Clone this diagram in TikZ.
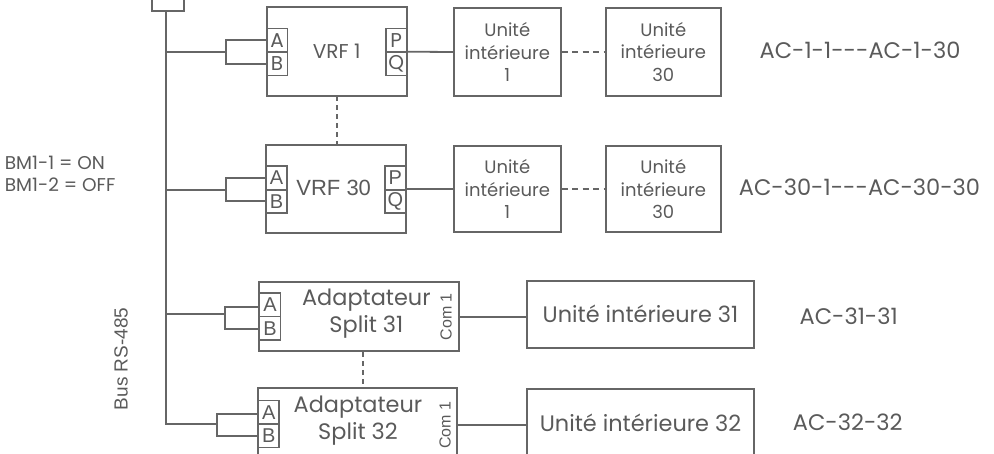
\documentclass[tikz,border=0pt]{standalone}
\usepackage{fontspec}
\setmainfont{Poppins}
\newfontfamily\altfont{Liberation Sans}
\definecolor{lc}{HTML}{666666}
\definecolor{tc}{HTML}{5A5A5A}
\begin{document}
\begin{tikzpicture}[x=1pt,y=-1pt,
  line width=1.8pt, draw=lc,
  box/.style={draw=lc, line width=1.8pt, rectangle, inner sep=0pt, text=tc, align=center},
  port/.style={box, minimum width=21pt, minimum height=23.5pt, font=\fontsize{20}{20}\selectfont},
  aport/.style={port, font=\altfont\fontsize{20}{20}\selectfont},
  lbl/.style={text=tc, inner sep=0pt},
  dsh/.style={dash pattern=on 6pt off 4.5pt}
]
\useasboundingbox (0,0) rectangle (994,453);
% top box
\node[box, minimum width=32pt, minimum height=40pt] (top) at (168,-9) {};
% VRF 1
\node[box, minimum width=140pt, minimum height=88.7pt, font=\fontsize{20}{20}\selectfont] (vrf1) at (336.7,51.7) {VRF 1};
\node[port] (a1) at (277,40.3) {A};
\node[port] (b1) at (277,63.8) {B};
\node[port] (p1) at (396.2,40.3) {P};
\node[port] (q1) at (396.2,63.8) {Q};
% VRF 30
\node[box, minimum width=139.7pt, minimum height=88pt] (vrf30) at (335.9,189.3) {};
\node[lbl, font=\altfont\fontsize{22}{22}\selectfont] (vrf30t) at (333.7,188) {VRF 30};
\node[aport] (a30) at (276.5,178) {A};
\node[aport] (b30) at (276.5,201.3) {B};
\node[aport] (p30) at (395.3,178) {P};
\node[aport] (q30) at (395.3,201.3) {Q};
% indoor units rows
\tikzset{ubox/.style={box, minimum width=106.7pt, minimum height=87.4pt, font=\fontsize{18}{22.5}\selectfont}}
\node[ubox] (u1a) at (507.3,52) {Unité\\intérieure\\1};
\node[ubox, minimum width=115.3pt] (u1b) at (663.3,52) {Unité\\intérieure\\30};
\node[ubox, minimum height=86.3pt] (u2a) at (507.3,189.2) {Unité\\intérieure\\1};
\node[ubox, minimum width=115.3pt, minimum height=86.3pt] (u2b) at (663.3,189.2) {Unité\\intérieure\\30};
% labels right
\node[lbl, font=\fontsize{22.5}{22.5}\selectfont] (ac1) at (860,50) {AC-1-1{-}{-}{-}AC-1-30};
\node[lbl, font=\fontsize{22.5}{22.5}\selectfont] (ac30) at (859.5,187) {AC-30-1{-}{-}{-}AC-30-30};
\node[lbl, font=\fontsize{22.5}{22.5}\selectfont] (ac31) at (848.7,316) {AC-31-31};
\node[lbl, font=\fontsize{22.5}{22.5}\selectfont] (ac32) at (847.8,422) {AC-32-32};
% BM
\node[lbl, anchor=west, font=\fontsize{18.5}{18.5}\selectfont] (bm1) at (4,162.7) {BM1-1 = ON};
\node[lbl, anchor=west, font=\fontsize{18.5}{18.5}\selectfont] (bm2) at (4,185) {BM1-2 = OFF};
% Bus label
\node[lbl, rotate=90, font=\altfont\fontsize{19}{19}\selectfont] (buslbl) at (121,359) {Bus RS-485};
% adapters
\node[box, minimum width=199.7pt, minimum height=69.3pt] (ad31) at (359.2,316.3) {};
\node[lbl, font=\fontsize{22.4}{26.7}\selectfont, align=center] (ad31t) at (366.4,313.3) {Adaptateur\\Split 31};
\node[aport] (a31) at (270,304.7) {A};
\node[aport] (b31) at (270,328.3) {B};
\node[lbl, rotate=90, font=\altfont\fontsize{16}{16}\selectfont] (c31) at (446,316.7) {Com 1};
\node[box, minimum width=198.7pt, minimum height=69.3pt] (ad32) at (357.7,423) {};
\node[lbl, font=\fontsize{22.4}{26.7}\selectfont, align=center] (ad32t) at (358,420.8) {Adaptateur\\Split 32};
\node[aport] (a32) at (268.8,412.3) {A};
\node[aport] (b32) at (268.8,435.7) {B};
\node[lbl, rotate=90, font=\altfont\fontsize{16}{16}\selectfont] (c32) at (445,425) {Com 1};
% units 31 32
\node[box, minimum width=227.6pt, minimum height=67pt, font=\fontsize{22.4}{22.4}\selectfont] (u31) at (640.5,314.2) {Unité intérieure 31};
\node[box, minimum width=227.6pt, minimum height=67pt, font=\fontsize{22.4}{22.4}\selectfont] (u32) at (640.5,422.5) {Unité intérieure 32};
% bus
\coordinate (busend) at (166,424);
\coordinate (bj1) at (166,51.7);
\coordinate (bj30) at (166,190);
\coordinate (bj31) at (166,314.3);
\coordinate (j1) at (226,51.7);
\coordinate (j30) at (226,190);
\coordinate (j31) at (225.3,314.3);
\coordinate (j32) at (217.3,424);
\draw[lc] (top.south -| busend) -- (busend) -- (j32);
\draw[lc] (bj1) -- (j1);
\draw[lc] (bj30) -- (j30);
\draw[lc] (bj31) -- (j31);
\draw[lc] (a1.west) -| (j1) |- (b1.west);
\draw[lc] (a30.west) -| (j30) |- (b30.west);
\draw[lc] ([yshift=-2pt]a31.west) -| (j31) |- ([yshift=-1pt]b31.west);
\draw[lc] ([yshift=-1.6pt]a32.west) -| (j32) |- (b32.west);
% right connections
\draw[lc] (vrf1.east) -- (u1a.west);
\draw[lc] (vrf30.east |- u2a.west) -- (u2a.west);
\draw[lc] (ad31.east |- c31) -- (u31.west |- c31);
\draw[lc] (ad32.east |- c32) -- (u32.west |- c32);
\draw[lc, dsh] (u1a.east) -- (u1b.west);
\draw[lc, dsh] (u2a.east) -- (u2b.west);
\draw[lc, dash pattern=on 5pt off 4pt] (337.3,96) -- (337.3,145.3);
\draw[lc, dash pattern=on 5pt off 4pt] (ad31.south -| 362.7,0) -- (ad32.north -| 362.7,0);
\end{tikzpicture}
\end{document}
